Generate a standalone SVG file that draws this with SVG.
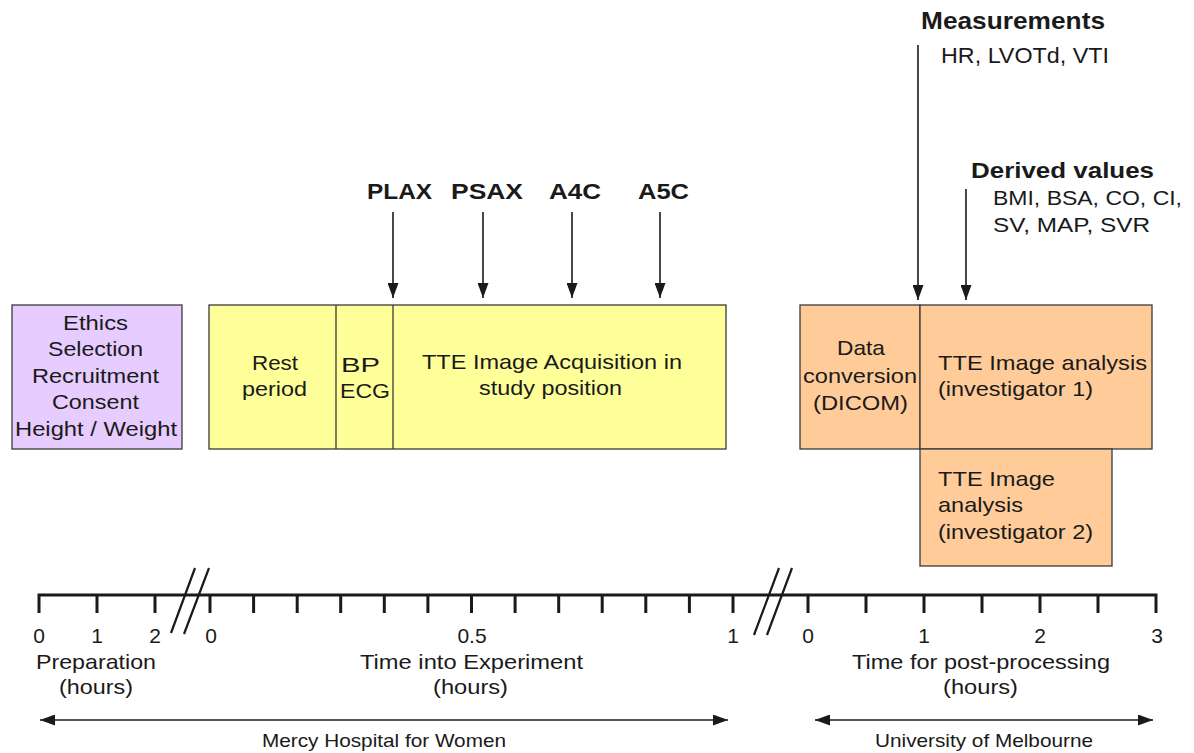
<svg xmlns="http://www.w3.org/2000/svg" width="1194" height="753" viewBox="0 0 1194 753">
<style>
.t{font-family:"Liberation Sans",Arial,sans-serif;font-size:21px;fill:#1a1a1a}
.b{font-weight:bold}
.s{font-size:18.5px}
.box{stroke:#3a3a3a;stroke-width:1.3}
.pur{fill:#E6CCFF}
.yel{fill:#FFFF99}
.ora{fill:#FFCC99}
.ax{stroke:#1a1a1a;stroke-width:3;fill:none}
.sl{stroke:#1a1a1a;stroke-width:2.2;fill:none}
.arr{stroke:#1a1a1a;stroke-width:1.6;fill:none}
.v{marker-end:url(#ah)}
.h{marker-start:url(#ah);marker-end:url(#ah)}
</style>
<defs>
<marker id="ah" markerUnits="userSpaceOnUse" markerWidth="15" markerHeight="11" refX="15" refY="5.5" orient="auto-start-reverse">
<path d="M0,0 L15,5.5 L0,11 z" fill="#1a1a1a"/>
</marker>
</defs>
<rect width="1194" height="753" fill="#ffffff"/>

<g id="prep-box">
<rect class="box pur" x="12" y="305" width="170" height="144"/>
<text class="t" x="63" y="330" textLength="65" lengthAdjust="spacingAndGlyphs">Ethics</text>
<text class="t" x="48" y="356" textLength="95" lengthAdjust="spacingAndGlyphs">Selection</text>
<text class="t" x="32" y="383" textLength="127" lengthAdjust="spacingAndGlyphs">Recruitment</text>
<text class="t" x="52" y="409" textLength="87" lengthAdjust="spacingAndGlyphs">Consent</text>
<text class="t" x="15" y="436" textLength="162" lengthAdjust="spacingAndGlyphs">Height / Weight</text>
</g>

<g id="experiment-box">
<rect class="box yel" x="209" y="305" width="517" height="144"/>
<line class="box" x1="336" y1="305" x2="336" y2="449"/>
<line class="box" x1="393" y1="305" x2="393" y2="449"/>
<text class="t" x="252" y="370" textLength="46" lengthAdjust="spacingAndGlyphs">Rest</text>
<text class="t" x="242" y="396" textLength="65" lengthAdjust="spacingAndGlyphs">period</text>
<text class="t" x="341" y="372" textLength="39" lengthAdjust="spacingAndGlyphs">BP</text>
<text class="t" x="340" y="398" textLength="50" lengthAdjust="spacingAndGlyphs">ECG</text>
<text class="t" x="422" y="369" textLength="260" lengthAdjust="spacingAndGlyphs">TTE Image Acquisition in</text>
<text class="t" x="479" y="395" textLength="143" lengthAdjust="spacingAndGlyphs">study position</text>
</g>

<g id="data-conversion">
<rect class="box ora" x="800" y="305" width="120" height="144"/>
<text class="t" x="837" y="355" textLength="48" lengthAdjust="spacingAndGlyphs">Data</text>
<text class="t" x="803" y="383" textLength="114" lengthAdjust="spacingAndGlyphs">conversion</text>
<text class="t" x="813" y="410" textLength="95" lengthAdjust="spacingAndGlyphs">(DICOM)</text>
</g>

<g id="analysis-1">
<rect class="box ora" x="920" y="305" width="232" height="144"/>
<text class="t" x="938" y="370" textLength="209" lengthAdjust="spacingAndGlyphs">TTE Image analysis</text>
<text class="t" x="938" y="396" textLength="155" lengthAdjust="spacingAndGlyphs">(investigator 1)</text>
</g>

<g id="analysis-2">
<rect class="box ora" x="920" y="449" width="192" height="117"/>
<text class="t" x="938" y="486" textLength="117" lengthAdjust="spacingAndGlyphs">TTE Image</text>
<text class="t" x="938" y="512" textLength="85" lengthAdjust="spacingAndGlyphs">analysis</text>
<text class="t" x="938" y="539" textLength="155" lengthAdjust="spacingAndGlyphs">(investigator 2)</text>
</g>

<g id="view-labels">
<text class="t b" style="font-size:22px" x="367" y="199" textLength="65" lengthAdjust="spacingAndGlyphs">PLAX</text>
<text class="t b" style="font-size:22px" x="451" y="199" textLength="72" lengthAdjust="spacingAndGlyphs">PSAX</text>
<text class="t b" style="font-size:22px" x="549" y="199" textLength="52" lengthAdjust="spacingAndGlyphs">A4C</text>
<text class="t b" style="font-size:22px" x="638" y="199" textLength="51" lengthAdjust="spacingAndGlyphs">A5C</text>
</g>

<g id="measurements">
<text class="t b" style="font-size:24px" x="921" y="29" textLength="184" lengthAdjust="spacingAndGlyphs">Measurements</text>
<text class="t" style="font-size:21.5px" x="941" y="63" textLength="168" lengthAdjust="spacingAndGlyphs">HR, LVOTd, VTI</text>
</g>

<g id="derived-values">
<text class="t b" style="font-size:22px" x="971" y="178" textLength="183" lengthAdjust="spacingAndGlyphs">Derived values</text>
<text class="t" x="993" y="205" textLength="189" lengthAdjust="spacingAndGlyphs">BMI, BSA, CO, CI,</text>
<text class="t" x="993" y="232" textLength="157" lengthAdjust="spacingAndGlyphs">SV, MAP, SVR</text>
</g>

<g id="connectors">
<line class="arr v" x1="393" y1="212" x2="393" y2="298"/>
<line class="arr v" x1="483" y1="212" x2="483" y2="298"/>
<line class="arr v" x1="572" y1="212" x2="572" y2="298"/>
<line class="arr v" x1="660" y1="212" x2="660" y2="298"/>
<line class="arr v" x1="918" y1="45" x2="918" y2="300"/>
<line class="arr v" x1="966" y1="189" x2="966" y2="300"/>
<line class="arr h" x1="40" y1="720" x2="728" y2="720"/>
<line class="arr h" x1="815" y1="720" x2="1153" y2="720"/>
</g>

<g id="time-axis">
<path class="ax" d="M39,613 V595 H1156 V613"/>
<path class="ax" d="M97,595 V613 M155,595 V613 M210,595 V613 M253.6,595 V613 M297.2,595 V613 M340.7,595 V613 M384.3,595 V613 M427.9,595 V613 M471.5,595 V613 M515.1,595 V613 M558.7,595 V613 M602.2,595 V613 M645.8,595 V613 M689.4,595 V613 M733,595 V613 M808,595 V613 M866,595 V613 M924,595 V613 M982,595 V613 M1040,595 V613 M1098,595 V613"/>
<path class="sl" d="M171,633 L195,568 M184,634 L209,568 M754,635 L779,568 M767,635 L792,568"/>
<g class="t" text-anchor="middle">
<text x="39" y="643">0</text>
<text x="97" y="643">1</text>
<text x="155" y="643">2</text>
<text x="211" y="643">0</text>
<text x="472" y="643">0.5</text>
<text x="733" y="643">1</text>
<text x="808" y="643">0</text>
<text x="924" y="643">1</text>
<text x="1040" y="643">2</text>
<text x="1157" y="643">3</text>
</g>
<text class="t" x="36" y="669" textLength="120" lengthAdjust="spacingAndGlyphs">Preparation</text>
<text class="t" x="59" y="694" textLength="74" lengthAdjust="spacingAndGlyphs">(hours)</text>
<text class="t" x="360" y="669" textLength="223" lengthAdjust="spacingAndGlyphs">Time into Experiment</text>
<text class="t" x="433" y="694" textLength="75" lengthAdjust="spacingAndGlyphs">(hours)</text>
<text class="t" x="852" y="669" textLength="258" lengthAdjust="spacingAndGlyphs">Time for post-processing</text>
<text class="t" x="943" y="694" textLength="75" lengthAdjust="spacingAndGlyphs">(hours)</text>
<text class="t s" x="262" y="747" textLength="244" lengthAdjust="spacingAndGlyphs">Mercy Hospital for Women</text>
<text class="t s" x="875" y="747" textLength="218" lengthAdjust="spacingAndGlyphs">University of Melbourne</text>
</g>
</svg>
